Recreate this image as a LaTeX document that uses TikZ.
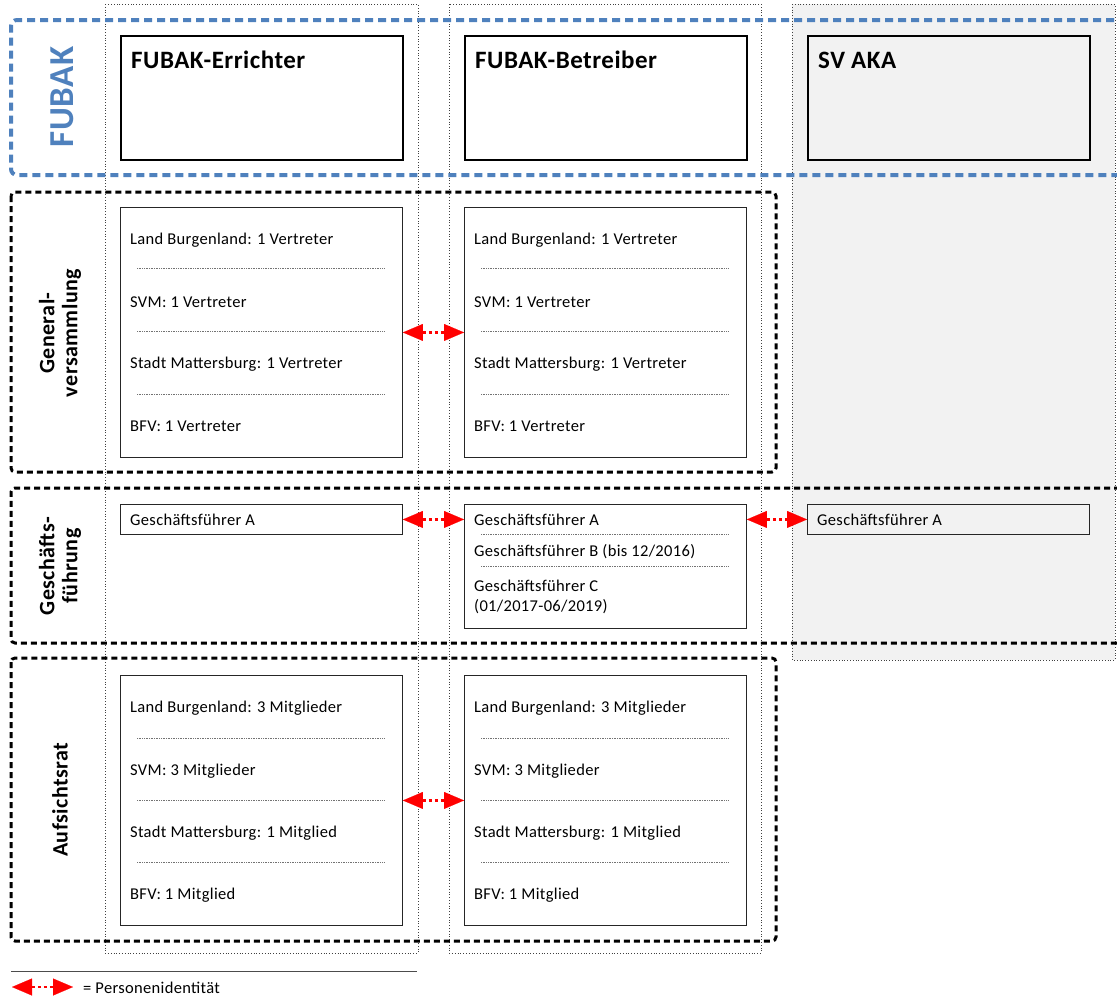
\documentclass[tikz,border=0pt]{standalone}
\usepackage{fontspec}
\setmainfont{Carlito}[LetterSpace=2]
\usetikzlibrary{arrows.meta,positioning}
\definecolor{fubakblue}{RGB}{79,129,189}
\definecolor{akagray}{RGB}{242,242,242}
\definecolor{pidred}{RGB}{255,0,0}

\begin{document}
\begin{tikzpicture}[x=1pt,y=-1pt,
    colframe/.style={draw=black!75,dotted,line width=0.8pt},
    groupframe/.style={draw=black,line width=3pt,dash pattern=on 6pt off 4pt,rounded corners=4pt},
    headbox/.style={draw,line width=1.8pt,anchor=north west,minimum width=282pt,minimum height=124pt,inner sep=0pt},
    entrybox/.style={draw=black!85,line width=0.9pt,anchor=north west,minimum width=282pt,inner sep=0pt},
    headtxt/.style={anchor=base west,font=\fontsize{25}{28}\selectfont\bfseries,inner sep=0pt},
    entry/.style={anchor=base west,font=\fontsize{16.5}{19}\selectfont,inner sep=0pt},
    sep/.style={draw=black!55,densely dotted,line width=0.7pt},
    side/.style={rotate=90,font=\fontsize{22}{23}\selectfont\bfseries,align=center},
    pid/.style={draw=pidred,line width=2.5pt,dash pattern=on 3pt off 3pt,
      {Triangle[length=20pt,width=17pt,line width=0.1pt]}-{Triangle[length=20pt,width=17pt,line width=0.1pt]}}
  ]
  \clip (0,0) rectangle (1117,997);

  % columns
  \draw[colframe] (105,4) rectangle (418,953);
  \draw[colframe] (449,4) rectangle (761,953);
  \draw[colframe,fill=akagray] (792,4) rectangle (1115,660);

  % group frames
  \draw[draw=fubakblue,line width=4pt,dash pattern=on 8pt off 5pt,rounded corners=6pt]
    (1140,20) -- (11,20) -- (11,175) -- (1140,175);
  \draw[groupframe] (11,192) rectangle (776,472);
  \draw[groupframe] (1140,488) -- (11,488) -- (11,643) -- (1140,643);
  \draw[groupframe] (11,658) rectangle (776,941);

  % row labels
  \node[side,text=fubakblue,font=\fontsize{35}{38}\selectfont\bfseries] (fubaklbl) at (62,97) {FUBAK};
  \node[side] (gvlbl) at (60,333) {General-\\versammlung};
  \node[side] (gflbl) at (60,566) {Geschäfts-\\führung};
  \node[side] (arlbl) at (60,800) {Aufsichtsrat};

  % heads
  \node[headbox] (err) at (120,35) {};
  \node[headbox] (btr) at (464,35) {};
  \node[headbox,fill=akagray] (aka) at (807,35) {};
  \node[headtxt] (errt) at (131,68) {FUBAK-Errichter};
  \node[headtxt] (btrt) at (475,68) {FUBAK-Betreiber};
  \node[headtxt] (akat) at (818,68) {SV AKA};

  % Generalversammlung / Aufsichtsrat
  \foreach \x/\c in {120/err,464/btr} {
    \node[entrybox,minimum height=250pt] (gv\c) at (\x,207) {};
    \foreach \n/\y/\t in {1/244/Land Burgenland: 1 Vertreter,2/307/SVM: 1 Vertreter,
        3/368/Stadt Mattersburg: 1 Vertreter,4/431/BFV: 1 Vertreter}
      \node[entry] (gv\c\n) at (\x+10,\y) {\t};
    \foreach \y in {268,331,394}
      \draw[sep] (\x+17,\y) -- (\x+265,\y);

    \node[entrybox,minimum height=250pt] (ar\c) at (\x,675) {};
    \foreach \n/\y/\t in {1/712/Land Burgenland: 3 Mitglieder,2/775/SVM: 3 Mitglieder,
        3/837/Stadt Mattersburg: 1 Mitglied,4/899/BFV: 1 Mitglied}
      \node[entry] (ar\c\n) at (\x+10,\y) {\t};
    \foreach \y in {738,800,862}
      \draw[sep] (\x+17,\y) -- (\x+265,\y);
  }

  % Geschaeftsfuehrung
  \node[entrybox,minimum height=30pt] (gferr) at (120,504) {};
  \node[entry] (gferr1) at (130,525) {Geschäftsführer A};
  \node[entrybox,minimum height=124pt] (gfbtr) at (464,504) {};
  \node[entry] (gfbtr1) at (474,525) {Geschäftsführer A};
  \node[entry] (gfbtr2) at (474,556) {Geschäftsführer B (bis 12/2016)};
  \node[entry] (gfbtr3) at (474,591) {Geschäftsführer C};
  \node[entry] (gfbtr4) at (474,611) {(01/2017-06/2019)};
  \draw[sep] (481,534) -- (729,534);
  \draw[sep] (481,566) -- (729,566);
  \node[entrybox,minimum height=30pt,fill=akagray] (gfaka) at (807,504) {};
  \node[entry] (gfaka1) at (817,525) {Geschäftsführer A};

  % Personenidentitaet
  \draw[pid] (gverr.east) -- (gvbtr.west);
  \draw[pid] (arerr.east) -- (arbtr.west);
  \draw[pid] (gferr.east) -- (gferr.east -| gfbtr.west);
  \draw[pid] (gfaka.west -| gfbtr.east) -- (gfaka.west);

  % legend
  \draw[black!70,line width=1pt] (11,971) -- (417,971);
  \coordinate (lgA) at (12,987);
  \coordinate (lgB) at (73,987);
  \draw[pid] (lgA) -- (lgB);
  \node[entry,anchor=west] (lgtxt) at (83,988) {= Personenidentität};
\end{tikzpicture}
\end{document}
